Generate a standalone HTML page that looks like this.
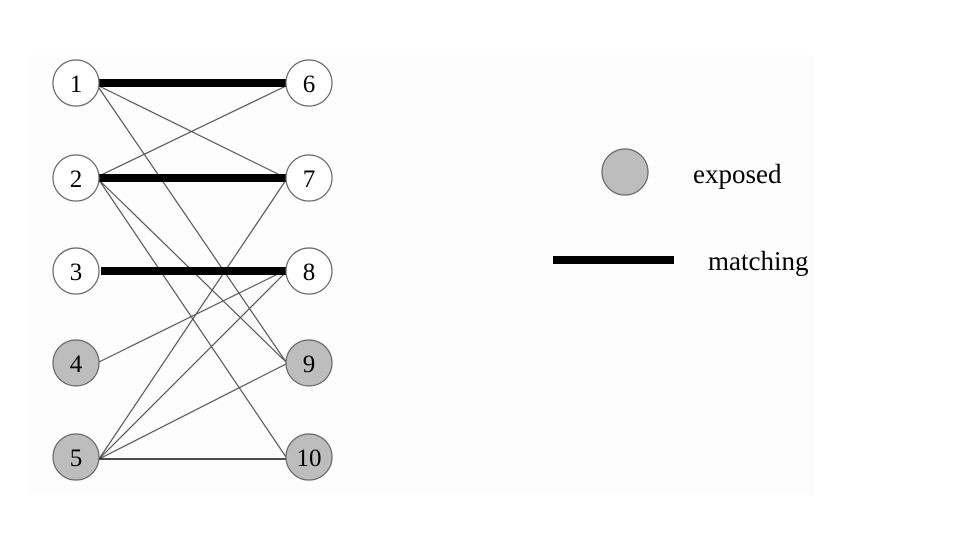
<!DOCTYPE html>
<html><head><style>body{margin:0;background:#fff}svg{display:block}</style></head>
<body>
<svg width="979" height="545" viewBox="0 0 979 545" xmlns="http://www.w3.org/2000/svg">
<rect x="30" y="55" width="785" height="440" fill="#fdfdfd"/>
<g stroke="#555" stroke-width="1.2">
<line x1="99" y1="86" x2="286" y2="178"/>
<line x1="99" y1="88" x2="286" y2="362"/>
<line x1="99" y1="176" x2="286" y2="86"/>
<line x1="99" y1="180" x2="286" y2="362"/>
<line x1="99" y1="180" x2="286" y2="457"/>
<line x1="99" y1="362" x2="286" y2="270"/>
<line x1="99" y1="459" x2="286" y2="180"/>
<line x1="99" y1="459" x2="286" y2="272"/>
<line x1="99" y1="459" x2="286" y2="364"/>
</g>
<line x1="99" y1="459" x2="286" y2="459" stroke="#111" stroke-width="1.6"/>
<g stroke="#000" stroke-width="8">
<line x1="99" y1="83" x2="286" y2="83"/>
<line x1="99" y1="178" x2="286" y2="178"/>
<line x1="101" y1="271" x2="286" y2="271"/>
<line x1="553" y1="260" x2="674" y2="260"/>
</g>
<g stroke="#666" stroke-width="1.2">
<circle cx="76" cy="83" r="23" fill="#fff"/>
<circle cx="76" cy="178" r="23" fill="#fff"/>
<circle cx="76" cy="271" r="23" fill="#fff"/>
<circle cx="76" cy="363" r="23" fill="#bdbdbd"/>
<circle cx="76" cy="457" r="23" fill="#bdbdbd"/>
<circle cx="309" cy="83" r="23" fill="#fff"/>
<circle cx="309" cy="178" r="23" fill="#fff"/>
<circle cx="309" cy="271" r="23" fill="#fff"/>
<circle cx="309" cy="363" r="23" fill="#bdbdbd"/>
<circle cx="309" cy="457" r="23" fill="#bdbdbd"/>
<circle cx="625" cy="172" r="23" fill="#bdbdbd"/>
</g>
<g font-family="Liberation Serif, serif" font-size="25" fill="#000" text-anchor="middle">
<text x="76" y="92">1</text>
<text x="76" y="187">2</text>
<text x="76" y="280">3</text>
<text x="76" y="372">4</text>
<text x="76" y="466">5</text>
<text x="309" y="92">6</text>
<text x="309" y="187">7</text>
<text x="309" y="280">8</text>
<text x="309" y="372">9</text>
<text x="309" y="466">10</text>
</g>
<g font-family="Liberation Serif, serif" font-size="27" fill="#000">
<text x="693" y="183">exposed</text>
<text x="708" y="270">matching</text>
</g>
</svg>
</body></html>
